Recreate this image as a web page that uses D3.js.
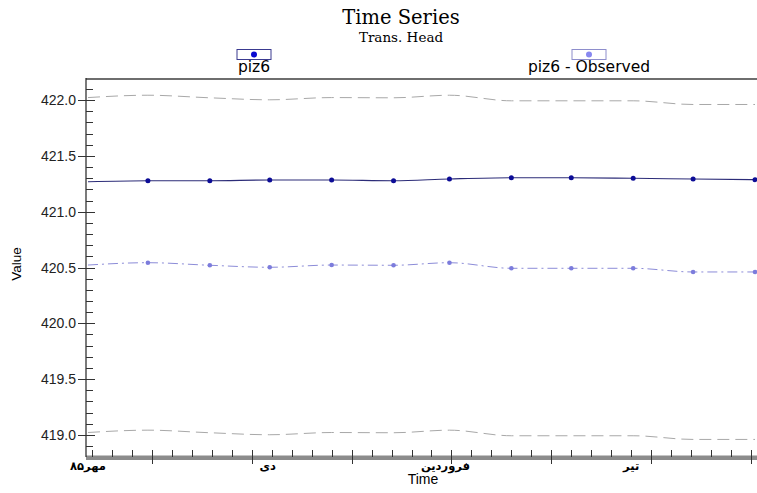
<!DOCTYPE html>
<html>
<head>
<meta charset="utf-8">
<script src="https://cdn.jsdelivr.net/npm/d3@7"></script>
<style>
	body { margin: 0; background: #fff; }
	svg { display: block; }
</style>
</head>
<body>
<div id="chart"></div>
<script>
// monthly samples (23rd of each month), Sep 2006 .. Aug 2007
var dates = [
	"2006-09-23", "2006-10-23", "2006-11-23", "2006-12-23", "2007-01-23", "2007-02-23",
	"2007-03-23", "2007-04-23", "2007-05-23", "2007-06-23", "2007-07-23", "2007-08-23"
];
var piz6 = [421.268, 421.277, 421.277, 421.284, 421.284, 421.277, 421.293, 421.304, 421.304, 421.299, 421.293, 421.287];
var observed = [420.522, 420.543, 420.520, 420.502, 420.522, 420.520, 420.543, 420.493, 420.493, 420.493, 420.460, 420.460];
var upper = [422.022, 422.043, 422.020, 422.002, 422.022, 422.020, 422.043, 421.993, 421.993, 421.993, 421.960, 421.960];
var lower = [419.022, 419.043, 419.020, 419.002, 419.022, 419.020, 419.043, 418.993, 418.993, 418.993, 418.960, 418.960];

var monthLabels = ["مهر۸۵", "دی", "فروردین", "تیر"];
var monthDates = ["2006-09-23", "2006-12-22", "2007-03-21", "2007-06-22"];
var yTicks = [419.0, 419.5, 420.0, 420.5, 421.0, 421.5, 422.0];

var width = 757,
	height = 493;

var parse = d3.utcParse("%Y-%m-%d");

var x = d3.scaleUtc()
	.domain([parse("2006-09-22"), parse("2007-08-24")])
	.range([86, 757]);

var y = d3.scaleLinear()
	.domain([418.8, 422.2])
	.range([457.3, 77.7]);

var svg = d3.select("#chart")
	.append("svg")
		.attr("width", width)
		.attr("height", height);

// title
svg.append("text")
	.attr("x", 401).attr("y", 24)
	.attr("text-anchor", "middle")
	.style("font-family", "'DejaVu Serif', serif")
	.style("font-size", "19.5px")
	.text("Time Series");

svg.append("text")
	.attr("x", 401).attr("y", 42)
	.attr("text-anchor", "middle")
	.style("font-family", "'DejaVu Serif', serif")
	.style("font-size", "13.5px")
	.text("Trans. Head");

// legend
var legend = [
	{name: "piz6", cx: 254, border: "#3a3a90", dot: "#0a0ad0"},
	{name: "piz6 - Observed", cx: 589, border: "#8e8ecc", dot: "#8888f0"}
];

var lg = svg.selectAll("g.legend")
	.data(legend)
	.enter().append("g")
		.attr("class", "legend");

lg.append("rect")
	.attr("x", function(d) { return d.cx - 17; })
	.attr("y", 49.5)
	.attr("width", 34)
	.attr("height", 10)
	.attr("fill", "#fff")
	.attr("stroke", function(d) { return d.border; });

lg.append("circle")
	.attr("cx", function(d) { return d.cx; })
	.attr("cy", 54.5)
	.attr("r", 3)
	.attr("fill", function(d) { return d.dot; });

lg.append("text")
	.attr("x", function(d) { return d.cx; })
	.attr("y", 72)
	.attr("text-anchor", "middle")
	.style("font-family", "'DejaVu Sans', sans-serif")
	.style("font-size", "15.5px")
	.text(function(d) { return d.name; });

// frame: top grey line, x band, y axis line
svg.append("line")
	.attr("x1", 86).attr("x2", width)
	.attr("y1", 79).attr("y2", 79)
	.attr("stroke", "#6e6e6e")
	.attr("stroke-width", 2);

svg.append("rect")
	.attr("x", 86).attr("y", 455.5)
	.attr("width", width - 86).attr("height", 4.5)
	.attr("fill", "#8c8c8c");

svg.append("line")
	.attr("x1", 86).attr("x2", 86)
	.attr("y1", 78).attr("y2", 457)
	.attr("stroke", "#222")
	.attr("stroke-width", 1.2);

// y ticks
var minor = d3.range(4189, 4222).map(function(d) { return d / 10; })
	.filter(function(d) { return Math.abs(d * 2 - Math.round(d * 2)) > 0.01; });

svg.selectAll("line.ymin")
	.data(minor)
	.enter().append("line")
		.attr("class", "ymin")
		.attr("x1", 86).attr("x2", 93)
		.attr("y1", function(d) { return Math.round(y(d)) + 0.5; })
		.attr("y2", function(d) { return Math.round(y(d)) + 0.5; })
		.attr("stroke", "#333");

svg.selectAll("line.ymaj")
	.data(yTicks)
	.enter().append("line")
		.attr("class", "ymaj")
		.attr("x1", 78).attr("x2", 95)
		.attr("y1", function(d) { return Math.round(y(d)) + 0.5; })
		.attr("y2", function(d) { return Math.round(y(d)) + 0.5; })
		.attr("stroke", "#333");

svg.selectAll("text.ylab")
	.data(yTicks)
	.enter().append("text")
		.attr("class", "ylab")
		.attr("x", 76)
		.attr("y", function(d) { return y(d) + 5; })
		.attr("text-anchor", "end")
		.style("font-family", "'Liberation Sans', Arial, sans-serif")
		.style("font-size", "14px")
		.attr("fill", "#222")
		.text(function(d) { return d.toFixed(1); });

svg.append("text")
	.attr("transform", "translate(21,264) rotate(-90)")
	.attr("text-anchor", "middle")
	.style("font-family", "'Liberation Sans', Arial, sans-serif")
	.style("font-size", "13.5px")
	.text("Value");

// x ticks, every 10 days, longer every 50
var xTicks = d3.utcDay.range(parse("2006-09-25"), parse("2007-08-24"), 10);

svg.selectAll("line.xt")
	.data(xTicks)
	.enter().append("line")
		.attr("class", "xt")
		.attr("x1", function(d) { return Math.round(x(d)) + 0.5; })
		.attr("x2", function(d) { return Math.round(x(d)) + 0.5; })
		.attr("y1", 450)
		.attr("y2", function(d, i) { return (i - 3) % 5 === 0 ? 464 : 457; })
		.attr("stroke", "#333");

svg.selectAll("text.xlab")
	.data(monthLabels)
	.enter().append("text")
		.attr("class", "xlab")
		.attr("x", function(d, i) { return x(parse(monthDates[i])); })
		.attr("y", 470)
		.attr("text-anchor", "middle")
		.attr("direction", "rtl")
		.style("font-family", "'DejaVu Sans', sans-serif")
		.style("font-weight", "bold")
		.style("font-size", "11.5px")
		.text(function(d) { return d; });

svg.append("text")
	.attr("x", 423).attr("y", 484)
	.attr("text-anchor", "middle")
	.style("font-family", "'Liberation Sans', Arial, sans-serif")
	.style("font-size", "14px")
	.text("Time");

// series
var line = function(vals) {
	return d3.line()
		.x(function(d, i) { return x(parse(dates[i])); })
		.y(function(d) { return y(d); })
		.curve(d3.curveMonotoneX)(vals);
};

var plot = svg.append("g");

plot.append("path")
	.attr("d", line(upper))
	.attr("fill", "none")
	.attr("stroke", "#a8a8a8")
	.attr("stroke-dasharray", "12,6");

plot.append("path")
	.attr("d", line(lower))
	.attr("fill", "none")
	.attr("stroke", "#a8a8a8")
	.attr("stroke-dasharray", "12,6");

plot.append("path")
	.attr("d", line(observed))
	.attr("fill", "none")
	.attr("stroke", "#8c8cd8")
	.attr("stroke-dasharray", "10,4,2,4");

plot.append("path")
	.attr("d", line(piz6))
	.attr("fill", "none")
	.attr("stroke", "#2c2c78")
	.attr("stroke-width", 1.1);

// markers (first sample sits on the axis, no marker there)
plot.selectAll("circle.obs")
	.data(observed.slice(1))
	.enter().append("circle")
		.attr("class", "obs")
		.attr("cx", function(d, i) { return x(parse(dates[i + 1])); })
		.attr("cy", function(d) { return y(d); })
		.attr("r", 2.3)
		.attr("fill", "#7c7cdc");

plot.selectAll("circle.sim")
	.data(piz6.slice(1))
	.enter().append("circle")
		.attr("class", "sim")
		.attr("cx", function(d, i) { return x(parse(dates[i + 1])); })
		.attr("cy", function(d) { return y(d); })
		.attr("r", 2.5)
		.attr("fill", "#0c0c96");
</script>
</body>
</html>
